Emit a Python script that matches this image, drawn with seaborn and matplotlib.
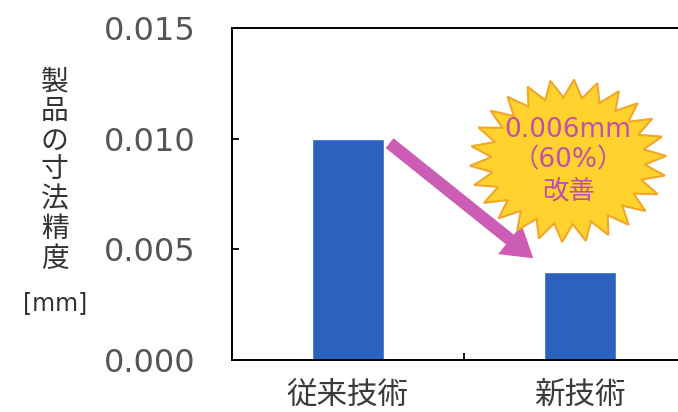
import numpy as np
import pandas as pd
import seaborn as sns
import matplotlib.pyplot as plt
from matplotlib.patches import Polygon

# data
categories = ['従来技術', '新技術']
accuracy = [0.010, 0.004]
yticks = [0.000, 0.005, 0.010, 0.015]
ytick_labels = ['0.000', '0.005', '0.010', '0.015']
improvement_text = '0.006mm\n（60%）\n改善'

sns.set_style('white')
plt.rcParams['font.family'] = ['DejaVu Sans', 'Noto Sans CJK JP']

df = pd.DataFrame({'tech': categories, 'acc': accuracy})

fig = plt.figure(figsize=(6.78, 4.12), dpi=100)
ax = fig.add_axes([0.342, 0.126, 0.684, 0.806])

sns.barplot(data=df, x='tech', y='acc', color='#2B62C0', saturation=1,
            width=0.31, ax=ax)

ax.set_xlim(-0.5, 1.5)
ax.set_ylim(0, 0.015)
ax.set_yticks(yticks)
ax.set_yticklabels(ytick_labels)
ax.tick_params(axis='y', direction='in', length=5, width=1.3, pad=26,
               labelsize=23, labelcolor='#555555', color='black', left=True)

ax.set_xticks([0, 1])
ax.set_xticklabels(categories, fontfamily=['Noto Sans CJK JP'])
ax.set_xticks([0.5], minor=True)
ax.tick_params(axis='x', which='major', length=0, pad=14, labelsize=22,
               labelcolor='#3a3a3a')
ax.tick_params(axis='x', which='minor', direction='in', length=5, width=1.3,
               color='black', bottom=True)
ax.set_xlabel('')
ax.set_ylabel('')

for side in ['left', 'top', 'bottom']:
    ax.spines[side].set_color('black')
    ax.spines[side].set_linewidth(1.4)
ax.spines['right'].set_visible(False)

# vertical y label
fig.text(0.081, 0.587, '製\n品\nの\n寸\n法\n精\n度', ha='center', va='center',
         fontsize=20, color='#333333', linespacing=0.98,
         fontfamily=['Noto Sans CJK JP'])
fig.text(0.082, 0.265, '[mm]', ha='center', va='center', fontsize=17,
         color='#333333')

# arrow from old bar to new bar
ax.annotate('', xy=(0.80, 0.0046), xytext=(0.18, 0.0098),
            arrowprops=dict(arrowstyle='simple,head_length=1.2,head_width=1.5,tail_width=0.5',
                            color='#CC5CB4', lw=0, mutation_scale=18,
                            shrinkA=0, shrinkB=0))

# starburst
cx, cy = 0.725, 0.60
n = 26
ang = np.linspace(0, 2 * np.pi, 2 * n, endpoint=False) + np.pi / (2 * n)
r = np.where(np.arange(2 * n) % 2 == 0, 1.0, 0.78)
rx, ry = 0.212, 0.245
pts = np.column_stack([cx + rx * r * np.cos(ang), cy + ry * r * np.sin(ang)])
ax.add_patch(Polygon(pts, closed=True, transform=ax.transAxes,
                     facecolor='#FFD22E', edgecolor='#F2A62A', lw=1.5, zorder=4))
ax.text(cx, cy, improvement_text, transform=ax.transAxes, ha='center',
        va='center', fontsize=19, color='#C24FAA', linespacing=1.22, zorder=5)

fig.savefig('out.png', dpi=100)
